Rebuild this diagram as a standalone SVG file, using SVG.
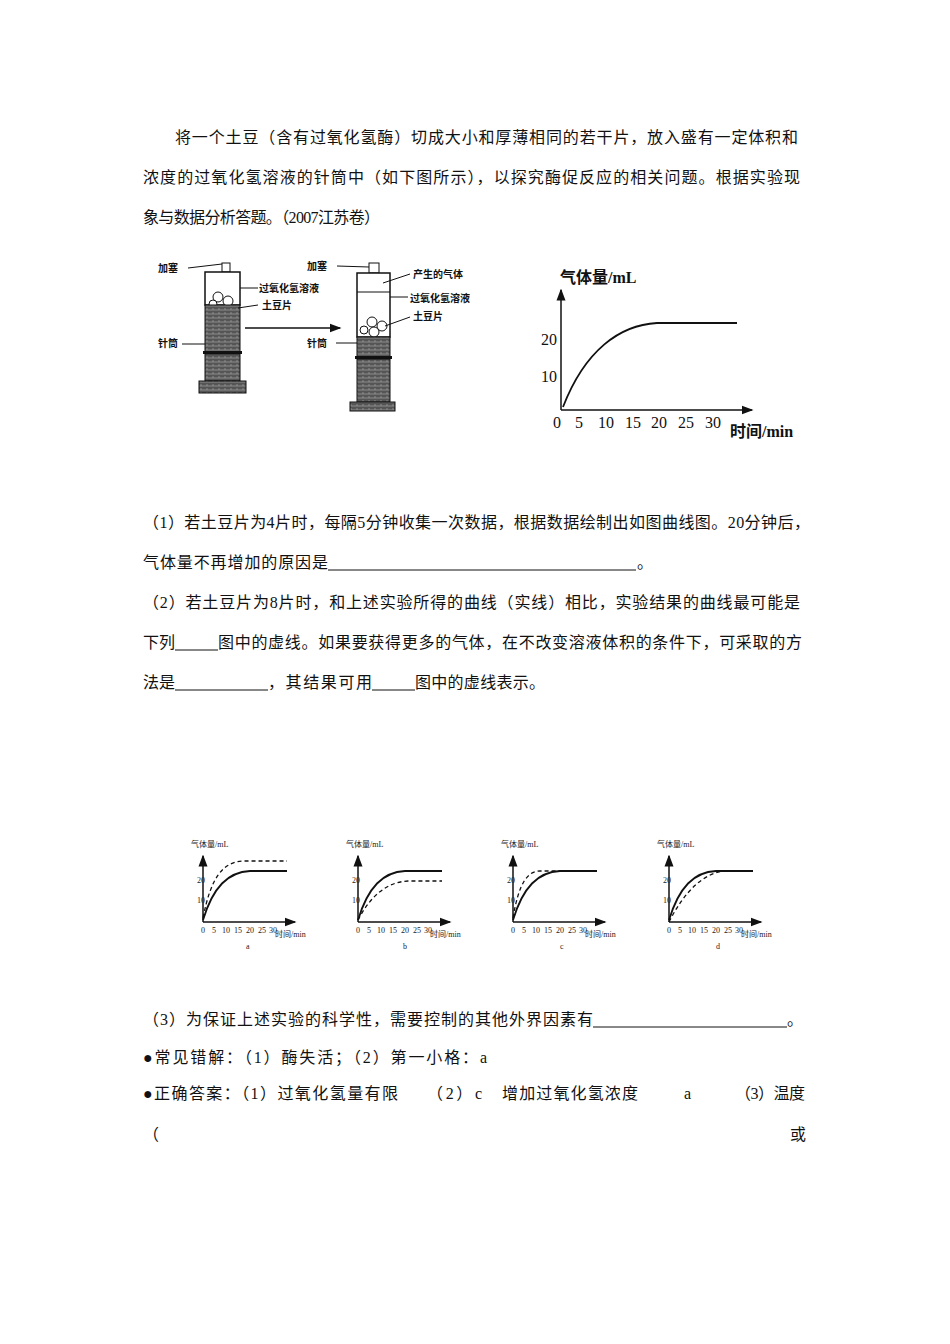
<svg xmlns="http://www.w3.org/2000/svg" width="950" height="1344" viewBox="0 0 950 1344">
<style>
.t{font-family:"Liberation Serif","Noto Sans CJK SC",serif;font-size:16px;fill:#111}
.s{font-family:"Liberation Serif","Noto Sans CJK SC",serif;font-size:10px;fill:#111;font-weight:bold}
.xs{font-family:"Liberation Serif","Noto Sans CJK SC",serif;font-size:8px;fill:#222}
.ax{stroke:#111;stroke-width:1.5;fill:none}
.cv{stroke:#111;stroke-width:1.8;fill:none}
.ds{stroke:#111;stroke-width:1.3;fill:none;stroke-dasharray:4 3}
.u{stroke:#111;stroke-width:1}
.dk{fill:url(#hatch);stroke:#111}
</style>
<defs>
<pattern id="hatch" width="6" height="4" patternUnits="userSpaceOnUse"><rect width="6" height="4" fill="#555"/><path d="M0,2 H6 M3,0 V2" stroke="#999" stroke-width="0.8"/></pattern>
<marker id="ar" markerWidth="8" markerHeight="8" refX="7" refY="4" orient="auto"><path d="M0,1 L8,4 L0,7 Z" fill="#111"/></marker>
<g id="sg">
<line class="ax" x1="0" y1="0" x2="0" y2="-66" marker-end="url(#ar)"/>
<line class="ax" x1="0" y1="0" x2="92" y2="0" marker-end="url(#ar)"/>
<text class="xs" x="-6" y="-39">20</text><text class="xs" x="-6" y="-19">10</text>
<text class="xs" x="-2" y="11">0</text><text class="xs" x="9" y="11">5</text><text class="xs" x="19" y="11">10</text><text class="xs" x="31" y="11">15</text><text class="xs" x="43" y="11">20</text><text class="xs" x="55" y="11">25</text><text class="xs" x="66" y="11">30</text>
<text class="xs" x="72" y="15" font-size="9">时间/min</text>
<text class="xs" x="-12" y="-75" font-size="9">气体量/mL</text>
<path class="cv" d="M0,-2 C10,-35 25,-50 47,-51 L84,-51"/>
</g>
</defs>
<rect width="950" height="1344" fill="#fff"/>
<g id="text-top">
<text class="t" x="175" y="143" textLength="623" lengthAdjust="spacing">将一个土豆（含有过氧化氢酶）切成大小和厚薄相同的若干片，放入盛有一定体积和</text>
<text class="t" x="143" y="183" textLength="657" lengthAdjust="spacing">浓度的过氧化氢溶液的针筒中（如下图所示），以探究酶促反应的相关问题。根据实验现</text>
<text class="t" x="143" y="223" textLength="237" lengthAdjust="spacing">象与数据分析答题。（2007江苏卷）</text>
</g>
<g id="syringe-left">
<rect x="222" y="263" width="8" height="9" fill="#fff" stroke="#111"/>
<rect x="205" y="272" width="35" height="33" fill="#fff" stroke="#111" stroke-width="1.5"/>
<circle cx="218" cy="297" r="5" fill="#fff" stroke="#111"/><circle cx="228" cy="301" r="5" fill="#fff" stroke="#111"/><circle cx="213" cy="304" r="4" fill="#fff" stroke="#111"/>
<rect class="dk" x="205" y="305" width="35" height="47"/>
<rect x="203" y="351" width="39" height="3" fill="#111"/>
<rect class="dk" x="205" y="354" width="35" height="27"/>
<rect class="dk" x="199" y="381" width="47" height="12"/>
<line class="u" x1="188" y1="268" x2="222" y2="264"/>
<line class="u" x1="240" y1="288" x2="258" y2="288"/>
<line class="u" x1="238" y1="308" x2="258" y2="305"/>
<line class="u" x1="182" y1="344" x2="205" y2="344"/>
<text class="s" x="158" y="272">加塞</text>
<text class="s" x="259" y="292">过氧化氢溶液</text>
<text class="s" x="262" y="309">土豆片</text>
<text class="s" x="158" y="347">针筒</text>
</g>
<g id="syringe-right">
<rect x="369" y="263" width="10" height="10" fill="#fff" stroke="#111"/>
<rect x="357" y="273" width="33" height="64" fill="#fff" stroke="#111" stroke-width="1.5"/>
<line class="u" x1="357" y1="292" x2="390" y2="292"/>
<circle cx="372" cy="322" r="5" fill="#fff" stroke="#111"/><circle cx="382" cy="326" r="5" fill="#fff" stroke="#111"/><circle cx="364" cy="330" r="4" fill="#fff" stroke="#111"/><circle cx="374" cy="332" r="5" fill="#fff" stroke="#111"/>
<rect class="dk" x="357" y="337" width="33" height="20"/>
<rect x="355" y="356" width="37" height="3" fill="#111"/>
<rect class="dk" x="357" y="359" width="33" height="43"/>
<rect class="dk" x="350" y="402" width="45" height="9"/>
<line class="u" x1="337" y1="266" x2="369" y2="267"/>
<line class="u" x1="383" y1="283" x2="410" y2="274"/>
<line class="u" x1="390" y1="297" x2="408" y2="297"/>
<line class="u" x1="385" y1="326" x2="410" y2="317"/>
<line class="u" x1="336" y1="343" x2="357" y2="343"/>
<text class="s" x="307" y="270">加塞</text>
<text class="s" x="413" y="278">产生的气体</text>
<text class="s" x="410" y="302">过氧化氢溶液</text>
<text class="s" x="413" y="320">土豆片</text>
<text class="s" x="307" y="347">针筒</text>
</g>
<g id="connectors">
<line class="ax" x1="245" y1="328" x2="340" y2="328" marker-end="url(#ar)"/>
</g>
<g id="graph-main">
<line class="ax" x1="561" y1="410" x2="561" y2="290" marker-end="url(#ar)"/>
<line class="ax" x1="561" y1="410" x2="752" y2="410" marker-end="url(#ar)"/>
<text class="t" x="560" y="283" font-weight="bold">气体量/mL</text>
<text class="t" x="541" y="345" font-size="13">20</text><text class="t" x="541" y="382" font-size="13">10</text>
<text class="t" x="553" y="428" font-size="13">0</text><text class="t" x="575" y="428" font-size="13">5</text><text class="t" x="598" y="428" font-size="13">10</text><text class="t" x="625" y="428" font-size="13">15</text><text class="t" x="651" y="428" font-size="13">20</text><text class="t" x="678" y="428" font-size="13">25</text><text class="t" x="705" y="428" font-size="13">30</text>
<text class="t" x="730" y="437" font-weight="bold">时间/min</text>
<path class="cv" d="M563,407 C585,350 620,325 657,323 L737,323"/>
</g>
<g id="questions">
<text class="t" x="143" y="528" textLength="667" lengthAdjust="spacing">（1）若土豆片为4片时，每隔5分钟收集一次数据，根据数据绘制出如图曲线图。20分钟后，</text>
<text class="t" x="143" y="568" textLength="185" lengthAdjust="spacing">气体量不再增加的原因是</text><line class="u" x1="328" y1="570" x2="636" y2="570"/><text class="t" x="637" y="568">。</text>
<text class="t" x="143" y="608" textLength="657" lengthAdjust="spacing">（2）若土豆片为8片时，和上述实验所得的曲线（实线）相比，实验结果的曲线最可能是</text>
<text class="t" x="143" y="648" textLength="32" lengthAdjust="spacing">下列</text><line class="u" x1="175" y1="650" x2="218" y2="650"/><text class="t" x="218" y="648" textLength="584" lengthAdjust="spacing">图中的虚线。如果要获得更多的气体，在不改变溶液体积的条件下，可采取的方</text>
<text class="t" x="143" y="688" textLength="32" lengthAdjust="spacing">法是</text><line class="u" x1="175" y1="690" x2="268" y2="690"/><text class="t" x="268" y="688" textLength="104" lengthAdjust="spacing">，其结果可用</text><line class="u" x1="372" y1="690" x2="415" y2="690"/><text class="t" x="415" y="688" textLength="130" lengthAdjust="spacing">图中的虚线表示。</text>
</g>
<g id="graph-a" transform="translate(203,922)"><use href="#sg"/><path class="ds" d="M0,-4 C8,-45 20,-60 40,-61 L84,-61"/><text class="xs" x="43" y="27" font-size="10">a</text></g>
<g id="graph-b" transform="translate(358,922)"><use href="#sg"/><path class="ds" d="M0,-2 C12,-25 28,-40 50,-41 L84,-41"/><text class="xs" x="45" y="27" font-size="10">b</text></g>
<g id="graph-c" transform="translate(513,922)"><use href="#sg"/><path class="ds" d="M0,-4 C6,-40 15,-51 27,-51 L84,-51"/><text class="xs" x="47" y="27" font-size="10">c</text></g>
<g id="graph-d" transform="translate(669,922)"><use href="#sg"/><path class="ds" d="M0,0 C15,-30 35,-50 57,-51 L84,-51"/><text class="xs" x="47" y="27" font-size="10">d</text></g>
<g id="text-bottom">
<text class="t" x="143" y="1025" textLength="450" lengthAdjust="spacing">（3）为保证上述实验的科学性，需要控制的其他外界因素有</text><line class="u" x1="593" y1="1027" x2="787" y2="1027"/><text class="t" x="787" y="1025">。</text>
<text class="t" x="143" y="1063" textLength="344" lengthAdjust="spacing">●常见错解：（1）酶失活；（2）第一小格：a</text>
<text class="t" x="143" y="1099" textLength="255" lengthAdjust="spacing">●正确答案：（1）过氧化氢量有限</text>
<text class="t" x="427" y="1099" textLength="55" lengthAdjust="spacing">（2）c</text>
<text class="t" x="502" y="1099" textLength="136" lengthAdjust="spacing">增加过氧化氢浓度</text>
<text class="t" x="684" y="1099">a</text>
<text class="t" x="735" y="1099" textLength="70" lengthAdjust="spacing">（3）温度</text>
<text class="t" x="143" y="1140">（</text><text class="t" x="790" y="1140">或</text>
</g>
</svg>
